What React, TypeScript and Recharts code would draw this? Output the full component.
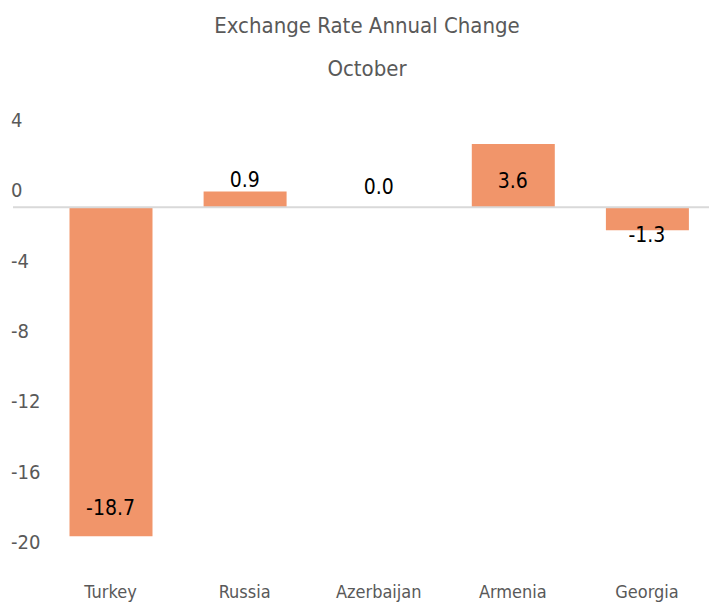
import { ComposedChart, Bar, Line, XAxis, YAxis, ReferenceLine, LabelList } from 'recharts';

const countries = ['Turkey', 'Russia', 'Azerbaijan', 'Armenia', 'Georgia'];
const annualChange = [-18.7, 0.9, 0.0, 3.6, -1.3];
const yTicks = [4, 0, -4, -8, -12, -16, -20];

const FONT = '"DejaVu Sans Condensed", "DejaVu Sans", sans-serif';
const GREY = '#595959';

// how far each value label sits from the end of its bar (the source chart is not consistent)
const labelNudge: Record<string, number> = {
  Turkey: -28,
  Russia: -12,
  Azerbaijan: -20,
  Armenia: 37,
  Georgia: 5,
};

const data = countries.map((name, i) => ({ name, value: annualChange[i] }));

function YTick({ y, payload }: any) {
  return (
    <text x={11} y={y - 17} dominantBaseline="central" fill={GREY} fontSize={20} fontFamily={FONT} fontStretch="condensed">
      {payload.value}
    </text>
  );
}

function XTick({ x, y, payload }: any) {
  return (
    <text x={x} y={y + 24} textAnchor="middle" dominantBaseline="central" fill={GREY} fontSize={18} fontFamily={FONT} fontStretch="condensed">
      {payload.value}
    </text>
  );
}

// labels hang off an invisible line so that the zero bar gets one too
function ValueLabel({ x, y, value, index }: any) {
  const nudge = labelNudge[countries[index]] ?? 0;
  return (
    <text
      x={x}
      y={y + nudge}
      textAnchor="middle"
      dominantBaseline="central"
      fill="#000"
      fontSize={21}
      fontFamily={FONT}
      fontStretch="condensed"
    >
      {Number(value).toFixed(1)}
    </text>
  );
}

function ZeroLine({ y1, x2 }: any) {
  return <line x1={13} y1={y1} x2={x2} y2={y1} stroke="#d9d9d9" strokeWidth={2} />;
}

export default function App() {
  return (
    <div
      style={{
        position: 'absolute',
        left: 0,
        top: 0,
        width: 709,
        height: 605,
        overflow: 'hidden',
        background: '#fff',
        fontFamily: FONT,
        fontStretch: 'condensed',
      }}
    >
      <div
        style={{
          position: 'absolute',
          left: 0,
          width: 734,
          top: 4,
          textAlign: 'center',
          color: GREY,
          fontSize: 22,
          lineHeight: '43px',
        }}
      >
        <div>Exchange Rate Annual Change</div>
        <div>October</div>
      </div>
      <ComposedChart
        width={714}
        height={605}
        data={data}
        margin={{ top: 137, right: 0, bottom: 0, left: 0 }}
        barSize={83}
      >
        <YAxis
          domain={[-20, 4]}
          ticks={yTicks}
          width={43.5}
          axisLine={false}
          tickLine={false}
          tick={<YTick />}
          interval={0}
        />
        <XAxis dataKey="name" axisLine={false} tickLine={false} tick={<XTick />} interval={0} height={46} />
        <Bar dataKey="value" fill="#F1956A" isAnimationActive={false} />
        <ReferenceLine y={0} shape={<ZeroLine />} />
        <Line dataKey="value" stroke="none" dot={false} activeDot={false} isAnimationActive={false}>
          <LabelList dataKey="value" content={<ValueLabel />} />
        </Line>
      </ComposedChart>
    </div>
  );
}
